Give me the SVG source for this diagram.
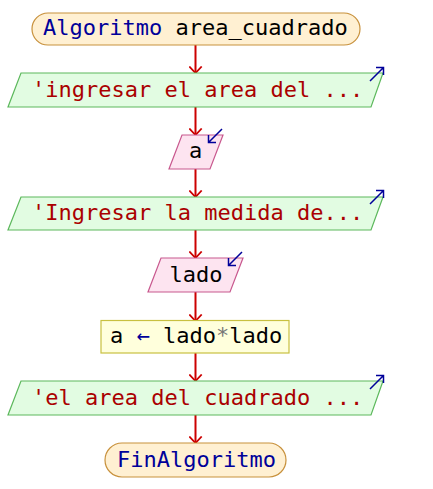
<svg xmlns="http://www.w3.org/2000/svg" width="433" height="489" viewBox="0 0 433 489">
  <defs>
    <style>
      text { font-family: "DejaVu Sans Mono", "Liberation Mono", monospace; font-size: 22px; }
      .term { fill: #fff0d2; stroke: #c8913c; stroke-width: 1.2; }
      .out { fill: #e2fce2; stroke: #5cb85c; stroke-width: 1.2; }
      .in { fill: #fde4f0; stroke: #c8588e; stroke-width: 1.2; }
      .asg { fill: #ffffdc; stroke: #c8c040; stroke-width: 1.2; }
      .kw { fill: #00009a; }
      .str { fill: #aa0000; }
      .id { fill: #000000; }
      .op { fill: #777777; }
      .flow { stroke: #cc0000; stroke-width: 2; fill: none; marker-end: url(#head); }
      .io { stroke: #00009a; stroke-width: 1.5; fill: none; }
    </style>
    <marker id="head" viewBox="0 0 8 14" refX="7" refY="7" markerWidth="8" markerHeight="14" markerUnits="userSpaceOnUse" orient="auto">
      <path d="M0.5,0.8 L7,7 L0.5,13.2" fill="none" stroke="#cc0000" stroke-width="1.8"/>
    </marker>
  </defs>

  <!-- connectors -->
  <g id="connectors">
    <line class="flow" x1="195.5" y1="45" x2="195.5" y2="73"/>
    <line class="flow" x1="195.5" y1="107" x2="195.5" y2="135"/>
    <line class="flow" x1="195.5" y1="169" x2="195.5" y2="197"/>
    <line class="flow" x1="195.5" y1="230" x2="195.5" y2="258"/>
    <line class="flow" x1="195.5" y1="292" x2="195.5" y2="321"/>
    <line class="flow" x1="195.5" y1="353" x2="195.5" y2="381"/>
    <line class="flow" x1="195.5" y1="415" x2="195.5" y2="443"/>
  </g>

  <g id="inicio">
    <rect class="term" x="32" y="13" width="328" height="32" rx="16" ry="16"/>
    <text x="43" y="35"><tspan class="kw">Algoritmo</tspan><tspan class="id"> area_cuadrado</tspan></text>
  </g>

  <g id="escribir1">
    <polygon class="out" points="21,73 383,73 371,107 8,107"/>
    <text class="str" x="32" y="97">'ingresar el area del ...</text>
    <path class="io" d="M370,81 L383.5,67.5 M376,67.5 L383.5,67.5 L383.5,75"/>
  </g>

  <g id="leer_a">
    <polygon class="in" points="182,135 223,135 210,169 169,169"/>
    <text class="id" x="195.5" y="158" text-anchor="middle">a</text>
    <path class="io" d="M222,129 L208.5,142.5 M208.5,135 L208.5,142.5 L216,142.5"/>
  </g>

  <g id="escribir2">
    <polygon class="out" points="21,197 383,197 371,230 8,230"/>
    <text class="str" x="32" y="220">'Ingresar la medida de...</text>
    <path class="io" d="M370,204 L383.5,190.5 M376,190.5 L383.5,190.5 L383.5,198"/>
  </g>

  <g id="leer_lado">
    <polygon class="in" points="161,258 243,258 230,292 148,292"/>
    <text class="id" x="196" y="282" text-anchor="middle">lado</text>
    <path class="io" d="M242,252 L228.5,265.5 M228.5,258 L228.5,265.5 L236,265.5"/>
  </g>

  <g id="asignar">
    <rect class="asg" x="101" y="320.5" width="188" height="32.5"/>
    <text x="110" y="343"><tspan class="id">a </tspan><tspan class="kw">←</tspan><tspan class="id"> lado</tspan><tspan class="op">*</tspan><tspan class="id">lado</tspan></text>
  </g>

  <g id="escribir3">
    <polygon class="out" points="21,381 383,381 371,415 8,415"/>
    <text class="str" x="32" y="405">'el area del cuadrado ...</text>
    <path class="io" d="M370,389 L383.5,375.5 M376,375.5 L383.5,375.5 L383.5,383"/>
  </g>

  <g id="fin">
    <rect class="term" x="105" y="443" width="181" height="34" rx="17" ry="17"/>
    <text class="kw" x="117" y="467">FinAlgoritmo</text>
  </g>
</svg>
